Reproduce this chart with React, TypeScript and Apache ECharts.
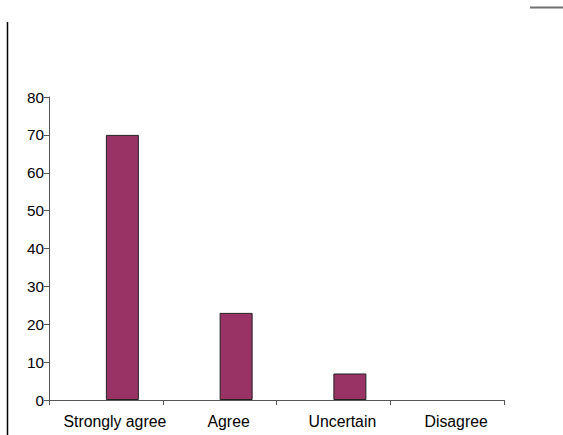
import React, { useEffect, useRef } from "react";
import * as echarts from "echarts";

// Survey responses
const categories = ["Strongly agree", "Agree", "Uncertain", "Disagree"];
const responseValues = [70, 23, 7, 0];
// Empty companion series: keeps each bar in the right half of its category slot
const companionValues = ["-", "-", "-", "-"];
const yTicks = { min: 0, max: 80, interval: 10 };

const FONT = "Arial, 'Liberation Sans', sans-serif";

export default function App() {
  const ref = useRef<HTMLDivElement>(null);

  useEffect(() => {
    document.body.style.margin = "0";
    if (!ref.current) return;
    const chart = echarts.init(ref.current, undefined, { renderer: "svg" });
    chart.setOption({
      animation: false,
      backgroundColor: "#ffffff",
      grid: { left: 49, right: 59, top: 97, bottom: 35, containLabel: false },
      xAxis: {
        type: "category",
        data: categories,
        boundaryGap: true,
        axisLine: { show: true, lineStyle: { color: "#555555", width: 1 } },
        axisTick: { show: true, length: 5, lineStyle: { color: "#555555" } },
        axisLabel: {
          color: "#000",
          fontSize: 15.8,
          fontFamily: FONT,
          margin: 13,
          interval: 0,
          padding: [0, 0, 0, 18],
        },
        splitLine: { show: false },
      },
      yAxis: {
        type: "value",
        min: yTicks.min,
        max: yTicks.max,
        interval: yTicks.interval,
        axisLine: { show: true, lineStyle: { color: "#555555", width: 1 } },
        axisTick: { show: true, length: 5, lineStyle: { color: "#555555" } },
        axisLabel: { color: "#000", fontSize: 15.3, fontFamily: FONT, margin: 5 },
        splitLine: { show: false },
      },
      series: [
        {
          type: "bar",
          name: "companion",
          data: companionValues,
          barWidth: 33,
          barGap: "0%",
        },
        {
          type: "bar",
          name: "Responses",
          // zero-height bars get no outline, so nothing is drawn on the axis
          data: responseValues.map((v) =>
            v === 0 ? { value: v, itemStyle: { borderWidth: 0, opacity: 0 } } : v
          ),
          barWidth: 33,
          barGap: "0%",
          itemStyle: { color: "#993366", borderColor: "#222222", borderWidth: 1 },
        },
      ],
      graphic: [
        {
          type: "line",
          shape: { x1: 7.5, y1: 22, x2: 7.5, y2: 435 },
          style: { stroke: "#000000", lineWidth: 1.5 },
        },
        {
          type: "line",
          shape: { x1: 530, y1: 7.5, x2: 563, y2: 7.5 },
          style: { stroke: "#707070", lineWidth: 2 },
        },
      ],
    });
    return () => chart.dispose();
  }, []);

  return <div ref={ref} style={{ width: 563, height: 435 }} />;
}
